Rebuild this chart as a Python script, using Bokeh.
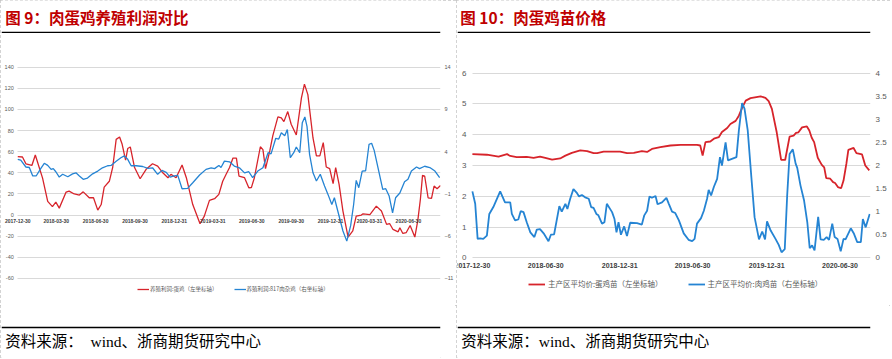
import pandas as pd
from bokeh.plotting import figure
from bokeh.models import (Range1d, LinearAxis, FixedTicker, Legend, LegendItem,
                          LabelSet, Span, NumeralTickFormatter, ColumnDataSource)
from bokeh.layouts import row, column
from bokeh.core.properties import value
from bokeh.embed import file_html
from bokeh.resources import INLINE

# ---------------- data : figure 9 ----------------
f9_title = "图 9：肉蛋鸡养殖利润对比"
f9_legend = ["养殖利润:蛋鸡（左坐标轴）", "养殖利润:817肉杂鸡（右坐标轴）"]
f9_x_ticks = ["2017-12-30", "2018-03-30", "2018-06-30", "2018-09-30", "2018-12-31",
              "2019-03-31", "2019-06-30", "2019-09-30", "2019-12-31", "2020-03-31", "2020-06-30"]
f9_left_ticks = [-60, -40, -20, 0, 20, 40, 60, 80, 100, 120, 140]
f9_right_ticks = [-11, -6, -1, 4, 9, 14]

f9_egg_dates = [
    "2017-12-30", "2018-01-10", "2018-01-18", "2018-02-01", "2018-02-09", "2018-02-26", "2018-03-10", "2018-03-21", "2018-03-29", "2018-04-06",
    "2018-04-22", "2018-04-29", "2018-05-11", "2018-05-23", "2018-06-01", "2018-06-15", "2018-06-25", "2018-07-05", "2018-07-13", "2018-07-20",
    "2018-08-01", "2018-08-09", "2018-08-17", "2018-08-25", "2018-08-31", "2018-09-08", "2018-09-13", "2018-09-19", "2018-09-29", "2018-10-12",
    "2018-10-26", "2018-11-10", "2018-11-22", "2018-12-04", "2018-12-16", "2018-12-23", "2019-01-04", "2019-01-18", "2019-01-28", "2019-02-12",
    "2019-03-01", "2019-03-11", "2019-03-23", "2019-04-04", "2019-04-14", "2019-04-23", "2019-05-01", "2019-05-09", "2019-05-17", "2019-05-25",
    "2019-05-31", "2019-06-13", "2019-06-23", "2019-06-29", "2019-07-06", "2019-07-20", "2019-07-26", "2019-08-01", "2019-08-11", "2019-08-18",
    "2019-08-30", "2019-09-07", "2019-09-13", "2019-09-22", "2019-09-30", "2019-10-12", "2019-10-24", "2019-10-31", "2019-11-08", "2019-11-20",
    "2019-11-28", "2019-12-06", "2019-12-14", "2019-12-21", "2019-12-29", "2020-01-06", "2020-01-12", "2020-01-20", "2020-01-29", "2020-02-10",
    "2020-02-21", "2020-02-29", "2020-03-12", "2020-03-16", "2020-04-01", "2020-04-16", "2020-04-28", "2020-05-10", "2020-05-17", "2020-05-25",
    "2020-06-06", "2020-06-10", "2020-06-17", "2020-06-25", "2020-07-04", "2020-07-15", "2020-07-22", "2020-07-28", "2020-08-02", "2020-08-07",
    "2020-08-15", "2020-08-23", "2020-08-29", "2020-09-05", "2020-09-13"]
f9_egg_profit = [
    55.3, 55.0, 48.6, 47.0, 56.9, 35.0, 13.0, 8.0, 12.3, 6.6,
    21.8, 22.7, 20.0, 19.0, 22.0, 16.4, 16.5, 4.7, 10.0, 26.5,
    32.0, 45.5, 71.7, 74.0, 67.0, 52.0, 63.0, 64.5, 45.0, 34.4,
    43.3, 48.6, 46.4, 40.0, 35.4, 38.6, 35.4, 47.4, 35.4, 10.0,
    -8.2, -1.0, 13.9, 15.5, 19.6, 32.0, 38.6, 45.0, 54.0, 54.0,
    37.0, 35.4, 25.9, 26.0, 35.4, 64.7, 62.0, 44.0, 60.7, 75.0,
    93.0, 92.0, 88.5, 98.0, 86.0, 75.8, 111.0, 124.0, 114.0, 73.0,
    56.0, 56.0, 68.6, 45.5, 44.0, 29.7, 45.0, 29.0, 3.8, -20.8,
    -15.0, -1.0, 0.0, 1.2, 0.5, 8.5, 3.8, -8.8, -8.0, -13.6,
    -15.8, -12.0, -17.4, -16.5, -9.8, -20.8, -5.0, 15.0, 37.6, 37.0,
    16.4, 15.8, 27.5, 25.0, 28.0]

f9_broiler_dates = [
    "2017-12-30", "2018-01-06", "2018-01-18", "2018-01-26", "2018-02-03", "2018-02-11", "2018-02-22", "2018-03-02", "2018-03-10", "2018-03-18",
    "2018-03-23", "2018-03-29", "2018-04-06", "2018-04-14", "2018-04-26", "2018-05-07", "2018-05-15", "2018-05-23", "2018-06-01", "2018-06-11",
    "2018-06-23", "2018-07-05", "2018-07-16", "2018-07-28", "2018-08-05", "2018-08-17", "2018-08-28", "2018-09-05", "2018-09-13", "2018-09-21",
    "2018-10-03", "2018-10-18", "2018-10-30", "2018-11-10", "2018-11-22", "2018-12-02", "2018-12-12", "2018-12-21", "2018-12-31", "2019-01-08",
    "2019-01-18", "2019-01-31", "2019-02-12", "2019-02-28", "2019-03-15", "2019-03-27", "2019-04-04", "2019-04-14", "2019-04-19", "2019-04-27",
    "2019-05-09", "2019-05-20", "2019-06-01", "2019-06-13", "2019-06-23", "2019-07-02", "2019-07-14", "2019-07-26", "2019-08-07", "2019-08-14",
    "2019-08-25", "2019-09-01", "2019-09-07", "2019-09-15", "2019-09-21", "2019-09-28", "2019-10-06", "2019-10-12", "2019-10-20", "2019-10-26",
    "2019-11-01", "2019-11-06", "2019-11-12", "2019-11-20", "2019-11-28", "2019-12-07", "2019-12-17", "2019-12-25", "2020-01-03", "2020-01-09",
    "2020-01-21", "2020-01-29", "2020-02-07", "2020-02-16", "2020-02-23", "2020-02-29", "2020-03-06", "2020-03-14", "2020-03-22", "2020-03-30",
    "2020-04-05", "2020-04-11", "2020-04-20", "2020-05-01", "2020-05-08", "2020-05-16", "2020-05-24", "2020-05-31", "2020-06-10", "2020-06-21",
    "2020-06-29", "2020-07-07", "2020-07-19", "2020-07-26", "2020-08-07", "2020-08-19", "2020-08-31", "2020-09-11"]
f9_broiler_profit = [
    3.10, 3.00, 2.19, 2.13, 1.13, 1.13, 2.03, 2.63, 2.38, 1.91,
    2.00, 1.63, 1.00, 1.33, 1.04, 1.38, 1.50, 1.13, 0.73, 0.88,
    1.38, 1.71, 2.10, 2.34, 2.38, 2.88, 3.29, 3.50, 3.10, 2.34,
    2.34, 2.25, 2.03, 2.10, 1.33, 1.79, 1.55, 1.00, 1.13, 1.20,
    -0.38, -0.34, 0.33, 1.24, 1.91, 2.10, 2.00, 2.38, 2.13, 2.88,
    2.81, 2.30, 2.10, 1.50, 1.63, 0.93, 1.71, 2.10, 3.88, 3.75,
    5.59, 5.50, 6.25, 5.88, 6.63, 3.29, 3.88, 4.56, 3.88, 7.44,
    8.11, 7.00, 3.69, 1.50, 0.53, 1.33, -0.06, -1.05, -2.25, -1.45,
    -3.81, -5.38, -6.58, -4.75, -2.25, 0.61, -0.26, 1.71, 1.75, 4.88,
    5.00, 4.16, 2.10, -0.45, -0.38, -1.25, -3.23, -1.45, -0.88, 0.45,
    0.75, 1.71, 2.19, 2.00, 2.28, 2.13, 1.71, 0.93]

# ---------------- data : figure 10 ----------------
f10_title = "图 10：肉蛋鸡苗价格"
f10_legend = ["主产区平均价:蛋鸡苗（左坐标轴）", "主产区平均价:肉鸡苗（右坐标轴）"]
f10_x_ticks = ["2017-12-30", "2018-06-30", "2018-12-31", "2019-06-30", "2019-12-31", "2020-06-30"]
f10_left_ticks = [0, 1, 2, 3, 4, 5, 6]
f10_right_ticks = [0, 0.5, 1, 1.5, 2, 2.5, 3, 3.5, 4]

f10_layer_dates = [
    "2017-12-30", "2018-02-04", "2018-03-05", "2018-03-26", "2018-04-03", "2018-04-19", "2018-05-14", "2018-05-31", "2018-06-16", "2018-06-29",
    "2018-07-16", "2018-08-05", "2018-08-18", "2018-09-03", "2018-09-24", "2018-10-11", "2018-10-27", "2018-11-05", "2018-11-21", "2019-01-01",
    "2019-01-18", "2019-02-04", "2019-02-24", "2019-03-09", "2019-03-21", "2019-04-11", "2019-05-06", "2019-05-31", "2019-07-11", "2019-07-19",
    "2019-07-25", "2019-08-01", "2019-08-13", "2019-08-22", "2019-09-03", "2019-09-11", "2019-09-24", "2019-10-02", "2019-10-15", "2019-10-23",
    "2019-10-31", "2019-11-09", "2019-11-21", "2019-12-16", "2019-12-28", "2020-01-05", "2020-01-13", "2020-01-25", "2020-02-05", "2020-02-15",
    "2020-02-26", "2020-03-07", "2020-03-13", "2020-03-19", "2020-03-28", "2020-04-09", "2020-04-15", "2020-04-21", "2020-04-27", "2020-05-06",
    "2020-05-16", "2020-05-22", "2020-05-27", "2020-06-06", "2020-06-13", "2020-06-18", "2020-06-25", "2020-07-03", "2020-07-09", "2020-07-16",
    "2020-07-21", "2020-08-03", "2020-08-10", "2020-08-24", "2020-09-01", "2020-09-11"]
f10_layer_price = [
    3.37, 3.35, 3.29, 3.37, 3.31, 3.27, 3.28, 3.25, 3.29, 3.25,
    3.19, 3.23, 3.32, 3.41, 3.49, 3.47, 3.40, 3.40, 3.45, 3.45,
    3.40, 3.41, 3.47, 3.44, 3.54, 3.60, 3.65, 3.67, 3.67, 3.65,
    3.32, 3.76, 3.78, 3.87, 3.92, 4.09, 4.22, 4.35, 4.45, 4.62,
    4.87, 5.11, 5.19, 5.25, 5.20, 5.09, 4.84, 4.08, 3.18, 3.18,
    3.94, 3.97, 4.06, 4.08, 4.24, 4.27, 4.14, 3.90, 3.76, 3.25,
    3.02, 2.94, 2.59, 2.57, 2.46, 2.43, 2.30, 2.26, 2.51, 3.05,
    3.51, 3.57, 3.40, 3.36, 3.00, 2.84]

f10_broiler_dates = [
    "2017-12-30", "2018-01-06", "2018-01-12", "2018-01-18", "2018-01-26", "2018-02-04", "2018-02-10", "2018-02-20", "2018-03-09", "2018-03-21",
    "2018-04-03", "2018-04-07", "2018-04-15", "2018-04-23", "2018-04-29", "2018-05-06", "2018-05-14", "2018-05-23", "2018-06-02", "2018-06-08",
    "2018-06-16", "2018-06-25", "2018-07-07", "2018-07-13", "2018-07-21", "2018-08-03", "2018-08-09", "2018-08-18", "2018-08-23", "2018-08-30",
    "2018-09-07", "2018-09-16", "2018-09-21", "2018-09-28", "2018-10-06", "2018-10-15", "2018-10-21", "2018-10-27", "2018-11-03", "2018-11-08",
    "2018-11-17", "2018-11-23", "2018-11-29", "2018-12-12", "2018-12-18", "2018-12-23", "2018-12-28", "2019-01-03", "2019-01-11", "2019-01-18",
    "2019-01-26", "2019-02-12", "2019-02-24", "2019-03-02", "2019-03-09", "2019-03-15", "2019-03-21", "2019-03-30", "2019-04-04", "2019-04-15",
    "2019-04-26", "2019-05-02", "2019-05-10", "2019-05-18", "2019-05-27", "2019-06-08", "2019-06-20", "2019-06-29", "2019-07-05", "2019-07-11",
    "2019-07-21", "2019-07-28", "2019-08-05", "2019-08-09", "2019-08-15", "2019-08-22", "2019-08-30", "2019-09-06", "2019-09-11", "2019-09-20",
    "2019-09-26", "2019-10-17", "2019-10-23", "2019-10-31", "2019-11-06", "2019-11-14", "2019-11-23", "2019-12-01", "2019-12-12", "2019-12-20",
    "2019-12-27", "2020-01-01", "2020-01-10", "2020-01-22", "2020-01-30", "2020-02-06", "2020-02-14", "2020-02-20", "2020-02-26", "2020-03-05",
    "2020-03-12", "2020-03-16", "2020-03-24", "2020-04-02", "2020-04-10", "2020-04-16", "2020-04-22", "2020-04-28", "2020-05-07", "2020-05-13",
    "2020-05-21", "2020-05-28", "2020-06-03", "2020-06-11", "2020-06-17", "2020-06-24", "2020-07-02", "2020-07-09", "2020-07-14", "2020-07-27",
    "2020-08-04", "2020-08-12", "2020-08-21", "2020-08-26", "2020-09-02", "2020-09-12"]
f10_broiler_price = [
    1.44, 1.17, 0.41, 0.42, 0.41, 0.48, 0.95, 1.10, 1.44, 1.20,
    1.20, 0.95, 0.81, 0.83, 1.01, 0.99, 0.77, 0.55, 0.45, 0.61,
    0.62, 0.53, 0.36, 0.50, 0.51, 1.12, 1.00, 1.17, 1.06, 1.28,
    1.49, 1.40, 1.33, 1.36, 1.31, 1.28, 1.10, 1.08, 0.95, 0.92,
    0.74, 0.77, 1.17, 0.99, 0.84, 0.55, 0.77, 0.50, 0.68, 0.47,
    0.76, 0.75, 0.72, 0.92, 1.02, 1.33, 1.30, 1.34, 1.16, 1.20,
    1.30, 1.17, 1.00, 0.97, 0.81, 0.53, 0.39, 0.36, 0.41, 0.74,
    0.86, 1.02, 1.28, 1.47, 1.35, 1.54, 1.71, 2.18, 2.00, 2.50,
    2.11, 2.18, 2.76, 3.35, 3.23, 2.76, 1.75, 0.88, 0.40, 0.57,
    0.40, 0.79, 0.59, 0.41, 0.28, 0.12, 0.19, 1.35, 2.25, 2.35,
    2.04, 1.95, 1.57, 1.24, 0.77, 0.21, 0.27, 0.16, 0.89, 0.40,
    0.39, 0.45, 0.39, 0.74, 0.45, 0.41, 0.14, 0.41, 0.40, 0.64,
    0.52, 0.34, 0.34, 0.84, 0.66, 0.95]

source_left = "资料来源：\u00a0 wind、浙商期货研究中心"
source_right = "资料来源：wind、浙商期货研究中心"

# ---------------- style ----------------
RED = "#D7242B"
BLUE = "#2584D3"
GRID = "#D9D9D9"
AXIS_TXT = "#595959"
CJK = "Noto Sans CJK SC"
NUM = "Liberation Sans"
SERIF = "Liberation Serif, Noto Sans CJK SC"
LW, RW = 456, 434
TH, CH, SH = 33, 272, 53
BORDER = {"outline": "1px dashed #C4C4C4", "outline-offset": "-1px"}


def band(w, h, txt, tx, ty, ly, size, color, style, font):
    b = figure(width=w, height=h, x_range=Range1d(0, w), y_range=Range1d(0, h),
               toolbar_location=None, output_backend="svg", title=None, min_border=0,
               x_axis_location=None, y_axis_location=None)
    b.grid.visible = False
    b.outline_line_color = None
    b.add_layout(Span(location=ly, dimension="width", line_color="black", line_width=1.6))
    b.text(x=[tx], y=[ty], text=[txt], text_font=value(font), text_font_size=size,
           text_font_style=style, text_color=color, text_baseline="middle", text_align="left")
    return b


def style_axis(ax, size, standoff):
    ax.axis_line_color = None
    ax.major_tick_line_color = None
    ax.minor_tick_line_color = None
    ax.major_tick_out = 0
    ax.major_tick_in = 0
    ax.major_label_standoff = standoff
    ax.major_label_text_font = NUM
    ax.major_label_text_font_size = size
    ax.major_label_text_color = AXIS_TXT


def ms(d):
    return pd.Timestamp(d).value / 1e6


def chart(w, x0, x1, yr, yticks, ytick_font, ytick_off, xticks, xtick_font, xtick_off, mb_r):
    p = figure(width=w, height=CH, x_axis_type="datetime", x_axis_location=None,
               y_axis_location=None,
               x_range=Range1d(pd.Timestamp(x0), pd.Timestamp(x1)), y_range=Range1d(*yr),
               toolbar_location=None, output_backend="svg", title=None,
               min_border_left=1, min_border_right=mb_r, min_border_top=24, min_border_bottom=2)
    p.outline_line_color = None
    p.xgrid.visible = False
    yg = p.ygrid[0]
    yg.ticker = FixedTicker(ticks=yticks)
    yg.grid_line_color = GRID
    if "cross_bounds" in yg.properties():
        yg.cross_bounds = (ms(xticks[0]), ms(x1))
    # left tick labels, drawn at the first date of the axis
    ysrc = ColumnDataSource(dict(x=[pd.Timestamp(xticks[0])] * len(yticks), y=yticks,
                                 text=[str(t) for t in yticks]))
    p.add_layout(LabelSet(x="x", y="y", text="text", source=ysrc, text_font=value(NUM),
                          text_font_size=ytick_font, text_color=AXIS_TXT, text_align="right",
                          text_baseline="middle", x_offset=-ytick_off))
    # date labels, drawn on the zero line
    xsrc = ColumnDataSource(dict(x=pd.to_datetime(xticks), y=[0] * len(xticks), text=xticks))
    p.add_layout(LabelSet(x="x", y="y", text="text", source=xsrc, text_font=value(NUM),
                          text_font_size=xtick_font, text_font_style="bold", text_color="#404040",
                          text_align="center", text_baseline="top", y_offset=-xtick_off))
    return p


# ---------------- figure 9 chart ----------------
y9 = (-83.69, 149.19)
p9 = chart(LW, "2017-11-22", "2020-09-13", y9, f9_left_ticks, "5.5px", 4,
           f9_x_ticks, "5px", 3.5, 15)
p9.extra_y_ranges = {"r": Range1d((y9[0] - 28) / 8, (y9[1] - 28) / 8)}
rax9 = LinearAxis(y_range_name="r", ticker=FixedTicker(ticks=f9_right_ticks))
style_axis(rax9, "5.5px", 4)
p9.add_layout(rax9, "right")

r_egg = p9.line(pd.to_datetime(f9_egg_dates), f9_egg_profit, line_color=RED, line_width=1.3)
r_brl = p9.line(pd.to_datetime(f9_broiler_dates), f9_broiler_profit, y_range_name="r",
                line_color=BLUE, line_width=1.3)
leg9 = Legend(items=[LegendItem(label=f9_legend[0], renderers=[r_egg]),
                     LegendItem(label=f9_legend[1], renderers=[r_brl])],
              location=(136, 10), orientation="horizontal", padding=0, spacing=16, margin=0,
              glyph_width=12, glyph_height=8, label_height=8, label_standoff=1,
              label_text_font_size="5.5px", label_text_font=CJK, label_text_color=AXIS_TXT,
              border_line_color=None, background_fill_alpha=0)
p9.add_layout(leg9)

# ---------------- figure 10 chart ----------------
y10 = (-1.485, 6.51)
p10 = chart(RW, "2017-11-23", "2020-09-14", y10, f10_left_ticks, "8px", 6,
            f10_x_ticks, "7px", 5, 20)
p10.extra_y_ranges = {"r": Range1d(y10[0] * 2 / 3, y10[1] * 2 / 3)}
rax10 = LinearAxis(y_range_name="r", ticker=FixedTicker(ticks=f10_right_ticks),
                   formatter=NumeralTickFormatter(format="0.[0]"))
style_axis(rax10, "8px", 5)
p10.add_layout(rax10, "right")

r_lay = p10.line(pd.to_datetime(f10_layer_dates), f10_layer_price, line_color=RED, line_width=1.8)
r_brc = p10.line(pd.to_datetime(f10_broiler_dates), f10_broiler_price, y_range_name="r",
                 line_color=BLUE, line_width=1.8)
leg10 = Legend(items=[LegendItem(label=f10_legend[0], renderers=[r_lay]),
                      LegendItem(label=f10_legend[1], renderers=[r_brc])],
               location=(71, 14), orientation="horizontal", padding=0, spacing=25, margin=0,
               glyph_width=17, glyph_height=10, label_height=10, label_standoff=3,
               label_text_font_size="7.5px", label_text_font=CJK, label_text_color=AXIS_TXT,
               border_line_color=None, background_fill_alpha=0)
p10.add_layout(leg10)

# ---------------- bands ----------------
t9 = band(LW, TH, f9_title, 4, 16.5, 1, "15.5px", "#C00000", "bold", CJK)
t10 = band(RW, TH, f10_title, 3, 16.5, 1, "15.5px", "#C00000", "bold", CJK)
s9 = band(LW, SH, source_left, 4, 17, 31, "15.5px", "black", "normal", SERIF)
s10 = band(RW, SH, source_right, 4, 17, 31, "15.5px", "black", "normal", SERIF)

left = column(t9, p9, s9, spacing=0, styles=BORDER)
right = column(t10, p10, s10, spacing=0, styles=BORDER)
page = row(left, right, spacing=0)

open("out.html", "w").write(file_html(page, INLINE))
